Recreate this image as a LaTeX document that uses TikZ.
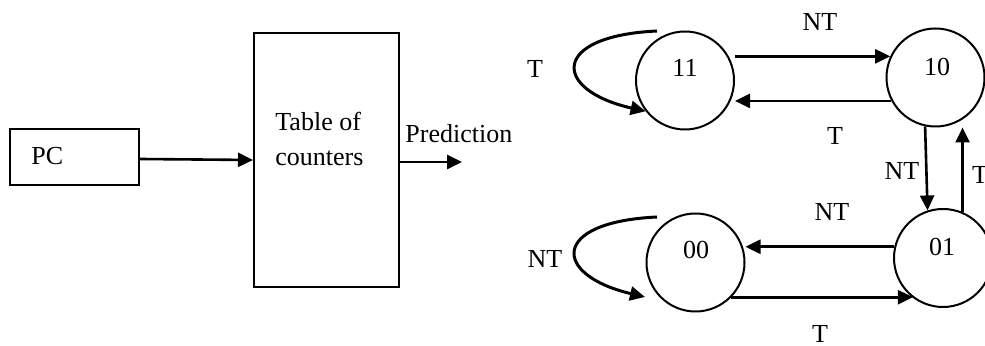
\documentclass[tikz,border=0pt]{standalone}
\usepackage{fontspec}
\setmainfont{Liberation Serif}
\usetikzlibrary{arrows.meta}
\begin{document}
\begin{tikzpicture}[x=0.5pt,y=-0.5pt,
  every node/.style={font=\fontsize{13}{16}\selectfont},
  boxnode/.style={draw,line width=1pt,inner sep=0pt},
  state/.style={draw,circle,line width=1pt,minimum size=49pt,inner sep=0pt},
  lbl/.style={anchor=base,inner sep=0pt},
  arr/.style={line width=1.3pt,-{Triangle[length=7.5pt,width=7pt]}},
  loop/.style={line width=1.5pt,-{Triangle[length=7.5pt,width=7pt]}}]
\useasboundingbox (0,0) rectangle (985,346);
% left block diagram
\node[boxnode,minimum width=64.5pt,minimum height=28pt] (pc) at (74.5,157) {};
\node[lbl,anchor=base west] (pct) at (31,165) {PC};
\node[boxnode,minimum width=72.5pt,minimum height=127pt] (tab) at (326.5,160) {};
\node[lbl,anchor=base west] (tab1) at (275,131) {Table of};
\node[lbl,anchor=base west] (tab2) at (275,166) {counters};
\node[lbl,anchor=base west] (predt) at (405,143) {Prediction};
\coordinate (pred) at (462,162);
\draw[arr] ([yshift=-1pt]pc.east) -- (tab.west);
\draw[arr] ([yshift=-1pt]tab.east) -- (pred);
% states
\node[state] (s11) at (685,80.5) {};
\node[state] (s10) at (935.5,77.5) {};
\node[state] (s00) at (695.5,262.5) {};
\node[state] (s01) at (943,258) {};
\node[lbl] (t11) at (685,77) {11};
\node[lbl] (t10) at (937,76) {10};
\node[lbl] (t00) at (696,259) {00};
\node[lbl] (t01) at (942,256) {01};
% transitions
\draw[arr] (s10.155 -| s11.east) -- (s10.155);
\draw[arr] (s10.208) -- (s10.208 -| s11.east);
\draw[arr] (s10.258) -- (s01.108);
\draw[arr] (s01.67) -- (s01.67 |- s10.south);
\draw[arr] (s01.167) -- (s01.167 -| s00.east);
\draw[arr] (s00.-44) -- (s00.-44 -| s01.233);
% self loops
\coordinate (l11) at (657,31);
\draw[loop] (l11) .. controls (550,36) and (552,90) .. (s11.218);
\coordinate (l00s) at (657,217);
\coordinate (l00e) at (645,297);
\draw[loop] (l00s) .. controls (550,222) and (552,275) .. (l00e);
% labels
\node[lbl] (lnt1) at (820,31) {NT};
\node[lbl] (lt1) at (835,145) {T};
\node[lbl] (lt11) at (535,78) {T};
\node[lbl] (lnt2) at (902,180) {NT};
\node[lbl] (lt2) at (980,184) {T};
\node[lbl] (lnt3) at (832,221) {NT};
\node[lbl] (lt3) at (820,343) {T};
\node[lbl] (lnt00) at (545,268) {NT};
\end{tikzpicture}
\end{document}
